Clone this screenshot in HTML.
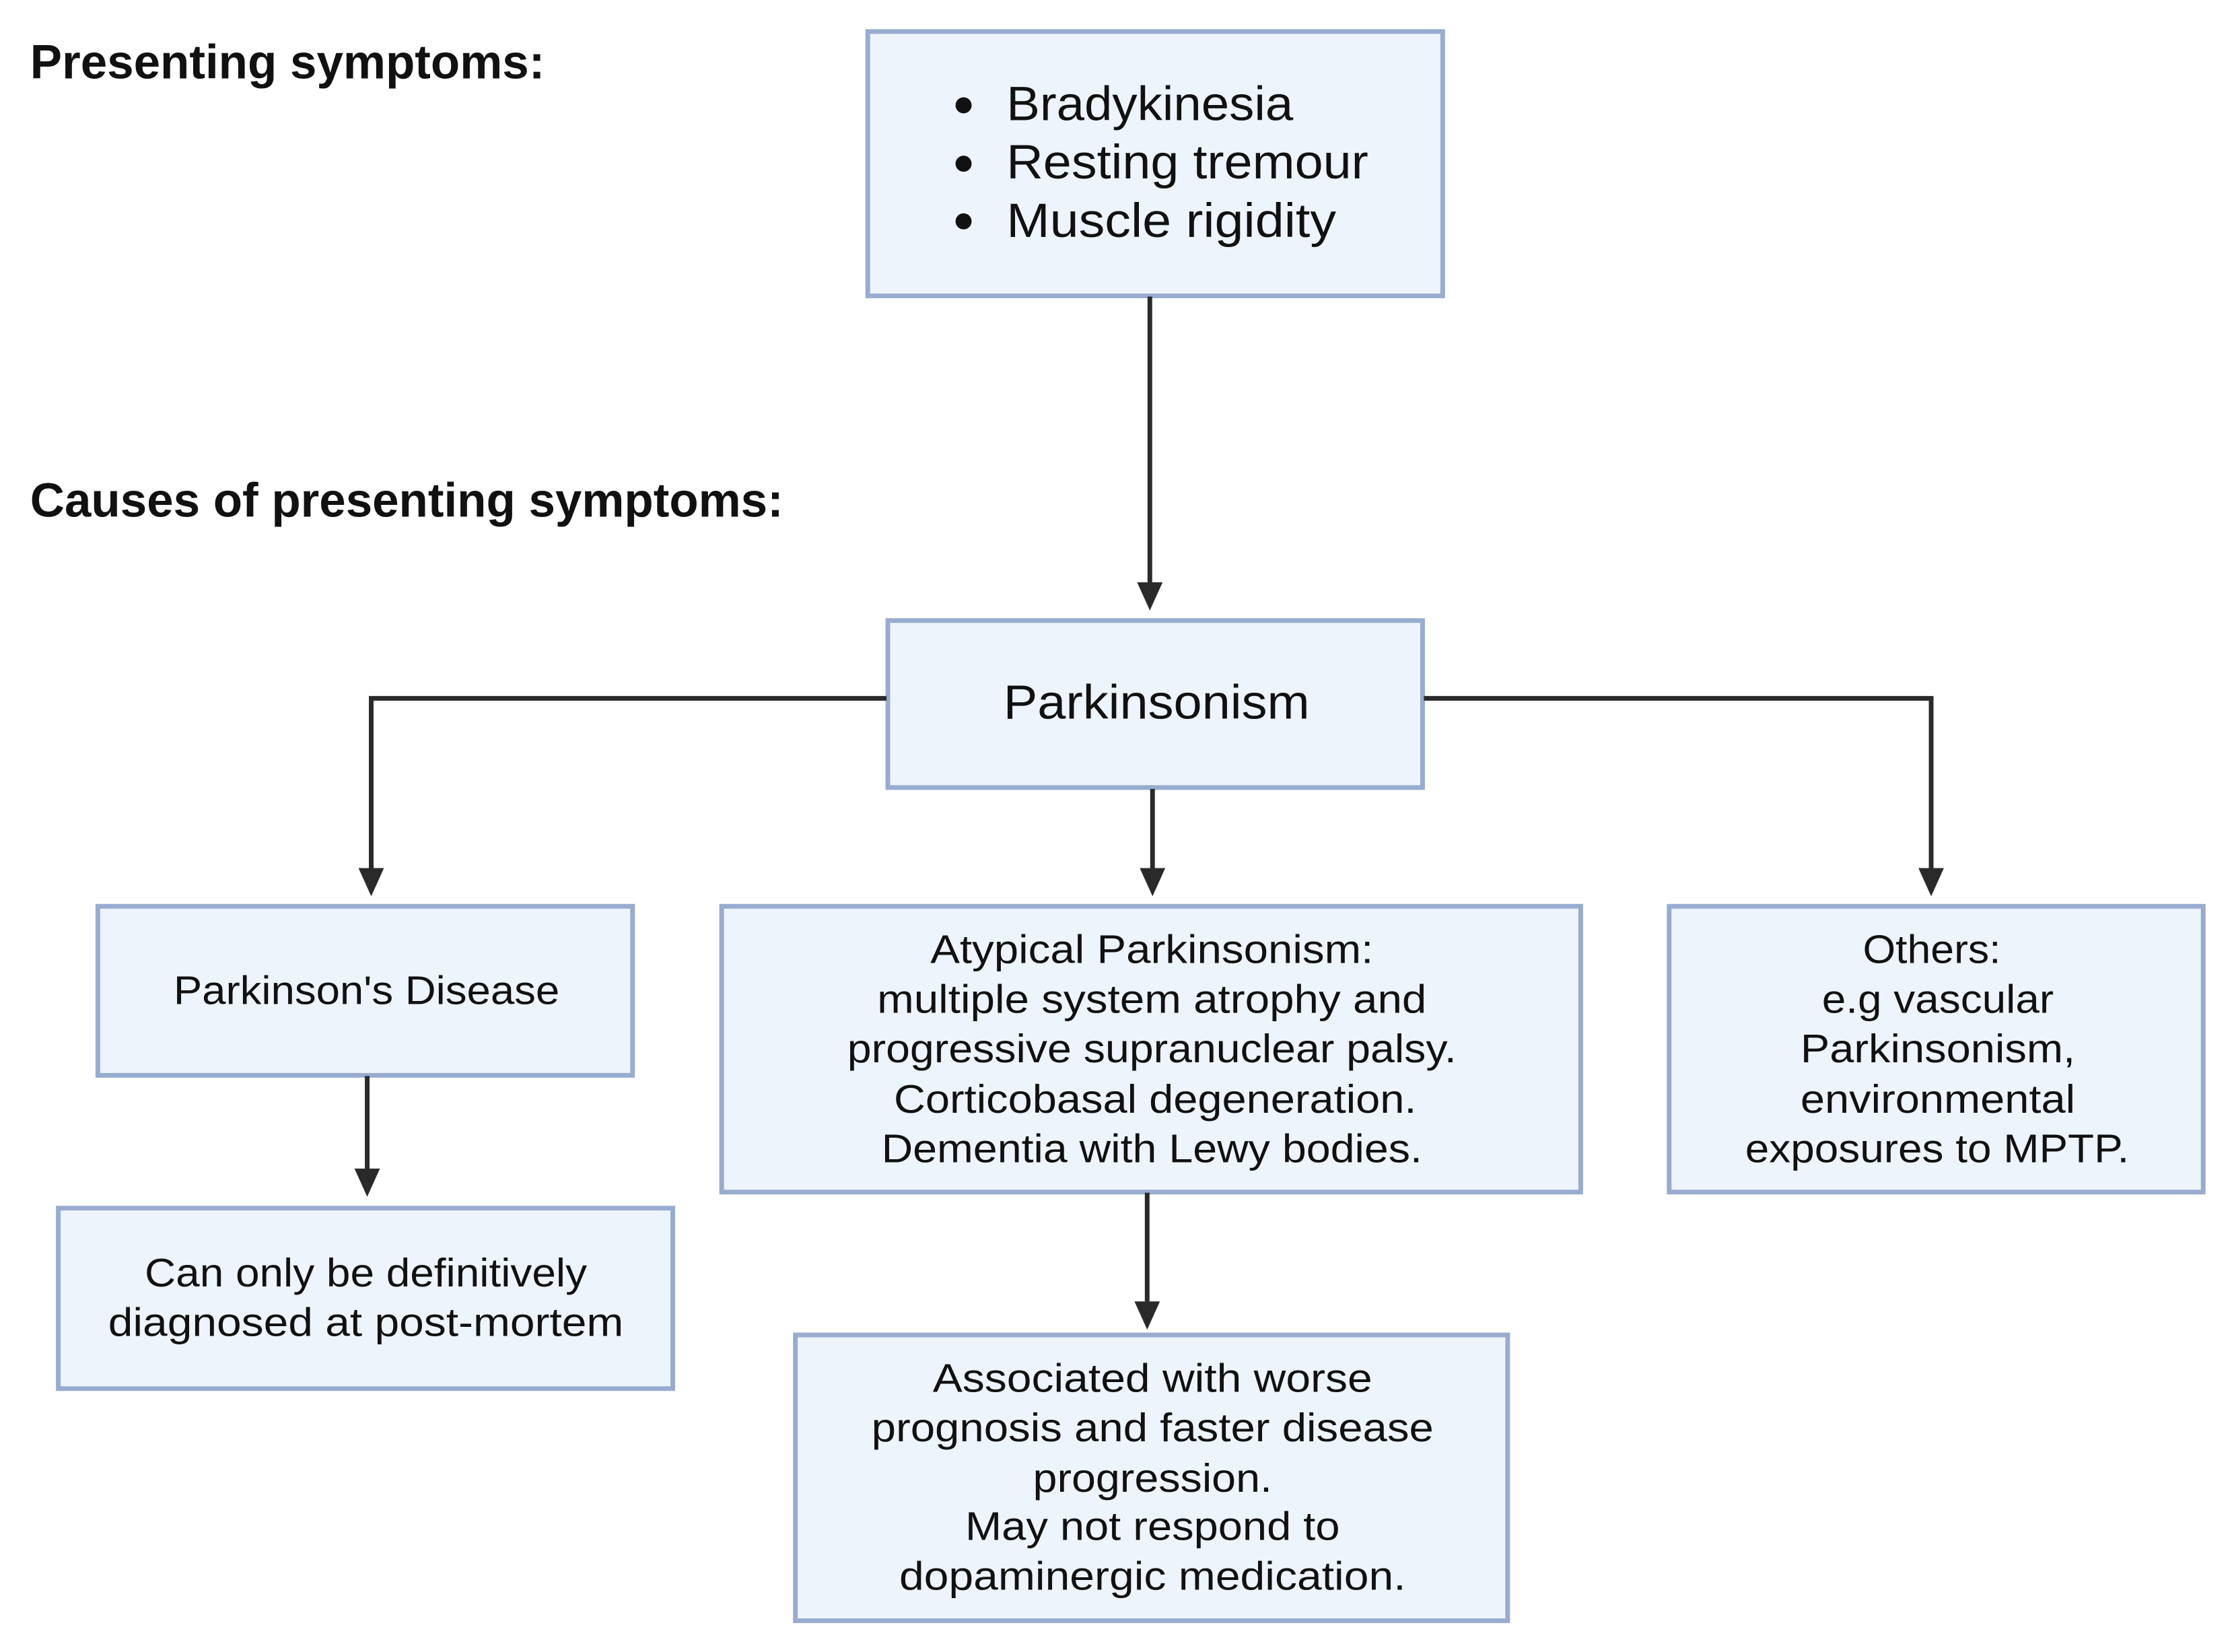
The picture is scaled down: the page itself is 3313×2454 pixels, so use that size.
<!DOCTYPE html>
<html><head><meta charset="utf-8"><style>html,body{margin:0;padding:0;background:#fff}svg{display:block}</style></head>
<body>
<svg width="3313" height="2454" viewBox="0 0 3313 2454" xmlns="http://www.w3.org/2000/svg" font-family="'Liberation Sans', sans-serif">
<rect width="3313" height="2454" fill="#fff"/>
<g transform="scale(0.9955,0.9965)">
<g fill="#eef4fc" stroke="#98acd0" stroke-width="7">
<rect x="1295" y="47" width="858" height="394"/>
<rect x="1325" y="925" width="798" height="249"/>
<rect x="146" y="1351" width="798" height="252"/>
<rect x="1077" y="1351" width="1282" height="426"/>
<rect x="2491" y="1351" width="797" height="426"/>
<rect x="87" y="1801" width="917" height="269"/>
<rect x="1187" y="1990" width="1063" height="426"/>
</g>
<g stroke="#2a2a2a" stroke-width="7" fill="none">
<line x1="1716" y1="442" x2="1716" y2="880"/>
<polyline points="1323,1041 554,1041 554,1300"/>
<polyline points="2125,1041 2882,1041 2882,1300"/>
<line x1="1720" y1="1176" x2="1720" y2="1300"/>
<line x1="548" y1="1604" x2="548" y2="1750"/>
<line x1="1712" y1="1778" x2="1712" y2="1945"/>
</g>
<g fill="#2a2a2a">
<polygon points="1697,868 1735,868 1716,910"/>
<polygon points="535,1294 573,1294 554,1336"/>
<polygon points="2863,1294 2901,1294 2882,1336"/>
<polygon points="1701,1294 1739,1294 1720,1336"/>
<polygon points="529,1742 567,1742 548,1784"/>
<polygon points="1693,1940 1731,1940 1712,1982"/>
</g>
<g fill="#111" font-weight="bold" font-size="72" dominant-baseline="central">
<text x="45" y="93" textLength="768" lengthAdjust="spacingAndGlyphs">Presenting symptoms:</text>
<text x="45" y="746" textLength="1124" lengthAdjust="spacingAndGlyphs">Causes of presenting symptoms:</text>
</g>
<g fill="#111" font-size="72" dominant-baseline="central">
<circle cx="1438" cy="157" r="12"/><circle cx="1438" cy="244" r="12"/><circle cx="1438" cy="330" r="12"/>
<text x="1502" y="155" textLength="428" lengthAdjust="spacingAndGlyphs">Bradykinesia</text>
<text x="1502" y="242" textLength="540" lengthAdjust="spacingAndGlyphs">Resting tremour</text>
<text x="1502" y="329" textLength="492" lengthAdjust="spacingAndGlyphs">Muscle rigidity</text>
<text x="1726" y="1047" text-anchor="middle" textLength="457" lengthAdjust="spacingAndGlyphs">Parkinsonism</text>
</g>
<g fill="#111" font-size="60" dominant-baseline="central" text-anchor="middle">
<text x="547" y="1476" textLength="576" lengthAdjust="spacingAndGlyphs">Parkinson's Disease</text>
<text x="1719" y="1415" textLength="661" lengthAdjust="spacingAndGlyphs">Atypical Parkinsonism:</text>
<text x="1719" y="1489" textLength="820" lengthAdjust="spacingAndGlyphs">multiple system atrophy and</text>
<text x="1719" y="1563" textLength="909" lengthAdjust="spacingAndGlyphs">progressive supranuclear palsy.</text>
<text x="1724" y="1638" textLength="780" lengthAdjust="spacingAndGlyphs">Corticobasal degeneration.</text>
<text x="1719" y="1712" textLength="807" lengthAdjust="spacingAndGlyphs">Dementia with Lewy bodies.</text>
<text x="2883" y="1415" textLength="206" lengthAdjust="spacingAndGlyphs">Others:</text>
<text x="2892" y="1489" textLength="346" lengthAdjust="spacingAndGlyphs">e.g vascular</text>
<text x="2892" y="1563" textLength="410" lengthAdjust="spacingAndGlyphs">Parkinsonism,</text>
<text x="2892" y="1638" textLength="410" lengthAdjust="spacingAndGlyphs">environmental</text>
<text x="2891" y="1712" textLength="573" lengthAdjust="spacingAndGlyphs">exposures to MPTP.</text>
<text x="546" y="1897" textLength="660" lengthAdjust="spacingAndGlyphs">Can only be definitively</text>
<text x="546" y="1971" textLength="769" lengthAdjust="spacingAndGlyphs">diagnosed at post-mortem</text>
<text x="1720" y="2054" textLength="656" lengthAdjust="spacingAndGlyphs">Associated with worse</text>
<text x="1720" y="2128" textLength="839" lengthAdjust="spacingAndGlyphs">prognosis and faster disease</text>
<text x="1720" y="2203" textLength="357" lengthAdjust="spacingAndGlyphs">progression.</text>
<text x="1720" y="2275" textLength="559" lengthAdjust="spacingAndGlyphs">May not respond to</text>
<text x="1720" y="2349" textLength="756" lengthAdjust="spacingAndGlyphs">dopaminergic medication.</text>
</g>
</g>
</svg>
</body></html>
